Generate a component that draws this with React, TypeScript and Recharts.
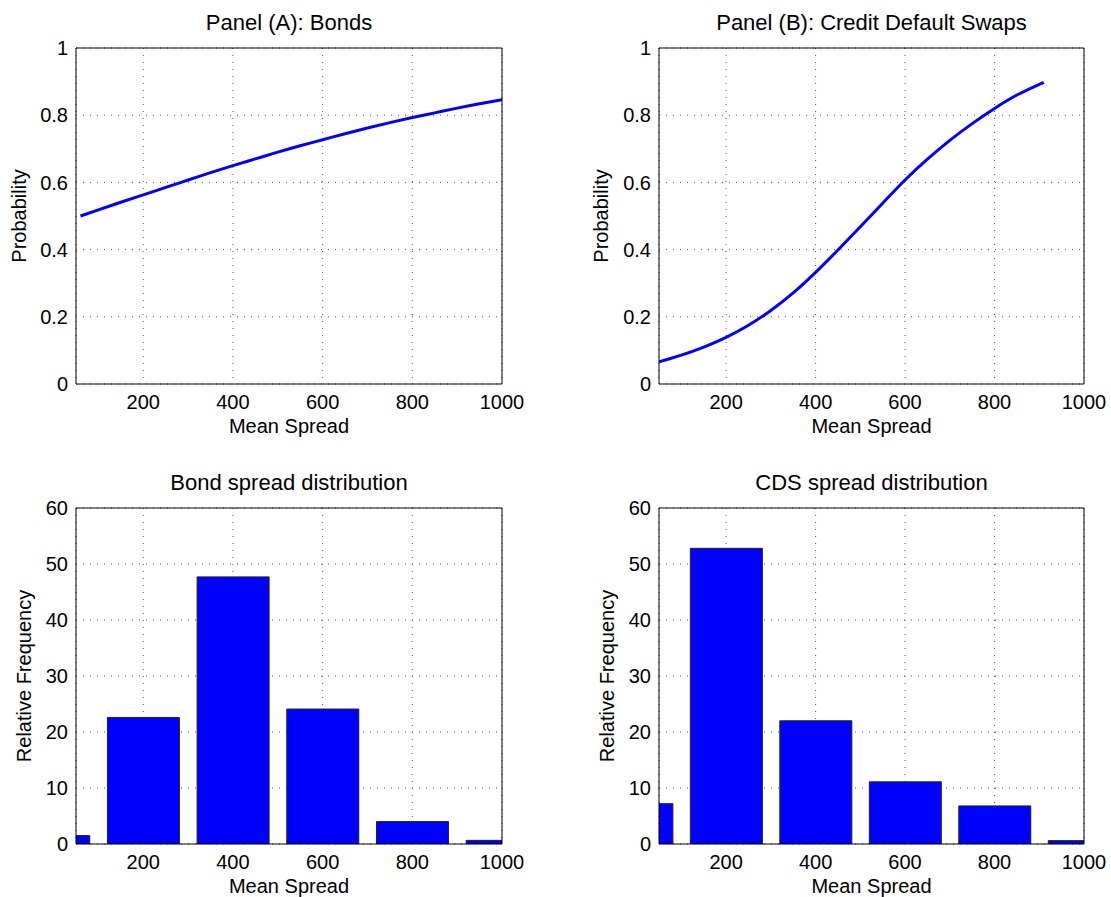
import React from "react";
import { LineChart, Line, BarChart, Bar, XAxis, YAxis, CartesianGrid } from "recharts";

const FONT = '"Liberation Sans", Arial, Helvetica, sans-serif';

// x axis shared by all four panels
const xDomain = [50, 1000];
const xTicks = [200, 400, 600, 800, 1000];
const probTicks = [0, 0.2, 0.4, 0.6, 0.8, 1];
const freqTicks = [0, 10, 20, 30, 40, 50, 60];

// Panel (A): Bonds
const bondSpread = [60, 100, 150, 200, 250, 300, 350, 400, 450, 500, 550, 600, 650, 700, 750, 800, 850, 900, 950, 1000];
const bondProb = [0.5, 0.518, 0.541, 0.563, 0.585, 0.607, 0.629, 0.65, 0.67, 0.69, 0.709, 0.727, 0.745, 0.762, 0.778, 0.793, 0.807, 0.821, 0.834, 0.846];

// Panel (B): Credit Default Swaps
const cdsSpread = [50, 100, 150, 200, 250, 300, 350, 400, 450, 500, 550, 600, 650, 700, 750, 800, 850, 910];
const cdsProb = [0.066, 0.086, 0.11, 0.139, 0.175, 0.219, 0.271, 0.332, 0.399, 0.468, 0.538, 0.607, 0.669, 0.725, 0.775, 0.82, 0.86, 0.898];

// histograms
const binCenters = [0, 200, 400, 600, 800, 1000];
const bondFreq = [1.5, 22.6, 47.7, 24.1, 4.0, 0.65];
const cdsFreq = [7.2, 52.8, 22.0, 11.1, 6.8, 0.6];

const lineA = bondSpread.map((x, i) => ({ x, p: bondProb[i] }));
const lineB = cdsSpread.map((x, i) => ({ x, p: cdsProb[i] }));
const histA = binCenters.map((x, i) => ({ x, f: bondFreq[i] }));
const histB = binCenters.map((x, i) => ({ x, f: cdsFreq[i] }));

const tickStyle = { fill: "#000", fontSize: 20, fontFamily: FONT };

// box, grid and inward ticks, matlab style
function frame(yTicks: number[], yLabel: string, yLabelOffset: number, axisW: number) {
  const yDomain = [yTicks[0], yTicks[yTicks.length - 1]];
  return [
    <CartesianGrid key="grid" stroke="#555" strokeDasharray="1 6" />,
    <XAxis
      key="x"
      dataKey="x"
      type="number"
      domain={xDomain}
      ticks={xTicks}
      allowDataOverflow
      height={64}
      tickSize={0}
      tickMargin={11}
      tickLine={false}
      axisLine={{ stroke: "#000" }}
      tick={tickStyle}
      label={{ value: "Mean Spread", position: "insideTop", offset: 35, fill: "#000", fontSize: 20, fontFamily: FONT }}
    />,
    <XAxis key="xb" xAxisId="xb" dataKey="x" type="number" domain={xDomain} ticks={xTicks} allowDataOverflow
      mirror height={20} tick={false} tickSize={4} axisLine={false} tickLine={{ stroke: "#000" }} />,
    <XAxis key="xt" xAxisId="xt" orientation="top" dataKey="x" type="number" domain={xDomain} ticks={xTicks} allowDataOverflow
      mirror height={20} tick={false} tickSize={4} axisLine={{ stroke: "#000" }} tickLine={{ stroke: "#000" }} />,
    <YAxis
      key="y"
      type="number"
      domain={yDomain}
      ticks={yTicks}
      allowDataOverflow
      width={axisW}
      tickSize={0}
      tickMargin={8}
      tickLine={false}
      axisLine={{ stroke: "#000" }}
      tick={tickStyle}
      label={{ value: yLabel, angle: -90, position: "insideLeft", offset: yLabelOffset, fill: "#000", fontSize: 20, fontFamily: FONT, style: { textAnchor: "middle" } }}
    />,
    <YAxis key="yl" yAxisId="yl" type="number" domain={yDomain} ticks={yTicks} allowDataOverflow
      mirror width={20} tick={false} tickSize={4} axisLine={false} tickLine={{ stroke: "#000" }} />,
    <YAxis key="yr" yAxisId="yr" orientation="right" type="number" domain={yDomain} ticks={yTicks} allowDataOverflow
      mirror width={20} tick={false} tickSize={4} axisLine={{ stroke: "#000" }} tickLine={{ stroke: "#000" }} />,
  ];
}

function Title({ text, cx, top }: { text: string; cx: number; top: number }) {
  return (
    <div style={{ position: "absolute", left: cx - 200, top, width: 400, textAlign: "center", fontSize: 22, lineHeight: "26px", fontFamily: FONT, color: "#000" }}>
      {text}
    </div>
  );
}

const leftMargin = { top: 48, right: 53, left: 0, bottom: 0 };
const rightMargin = { top: 48, right: 27, left: 0, bottom: 0 };

export default function App() {
  return (
    <div style={{ position: "absolute", left: 0, top: 0, width: 1111, height: 897, background: "#fff", overflow: "hidden" }}>
      <Title text="Panel (A): Bonds" cx={289} top={10} />
      <Title text="Panel (B): Credit Default Swaps" cx={871.5} top={10} />
      <Title text="Bond spread distribution" cx={289} top={470} />
      <Title text="CDS spread distribution" cx={871.5} top={470} />

      <div style={{ position: "absolute", left: 0, top: 0 }}>
        <LineChart width={555} height={448} data={lineA} margin={leftMargin}>
          {frame(probTicks, "Probability", 19, 76)}
          <Line dataKey="p" type="natural" stroke="#0000ff" strokeWidth={3} dot={false} isAnimationActive={false} />
        </LineChart>
      </div>

      <div style={{ position: "absolute", left: 580, top: 0 }}>
        <LineChart width={531} height={448} data={lineB} margin={rightMargin}>
          {frame(probTicks, "Probability", 21, 79)}
          <Line dataKey="p" type="natural" stroke="#0000ff" strokeWidth={3} dot={false} isAnimationActive={false} />
        </LineChart>
      </div>

      <div style={{ position: "absolute", left: 0, top: 460 }}>
        <BarChart width={555} height={448} data={histA} margin={leftMargin}>
          {frame(freqTicks, "Relative Frequency", 24, 76)}
          <Bar dataKey="f" fill="#0000ff" stroke="#222" strokeWidth={1} barSize={72} isAnimationActive={false} />
        </BarChart>
      </div>

      <div style={{ position: "absolute", left: 580, top: 460 }}>
        <BarChart width={531} height={448} data={histB} margin={rightMargin}>
          {frame(freqTicks, "Relative Frequency", 27, 79)}
          <Bar dataKey="f" fill="#0000ff" stroke="#222" strokeWidth={1} barSize={72} isAnimationActive={false} />
        </BarChart>
      </div>
    </div>
  );
}
